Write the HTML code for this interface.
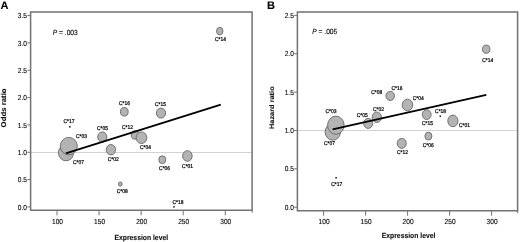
<!DOCTYPE html>
<html><head><meta charset="utf-8"><style>
html,body{margin:0;padding:0;background:#fff;width:520px;height:242px;overflow:hidden}
svg{display:block;font-family:"Liberation Sans",sans-serif;will-change:transform}
text{text-rendering:geometricPrecision;stroke:#111;stroke-width:0.12px}
text.lb{stroke:#000;stroke-width:0.22px}
</style></head><body>
<svg width="520" height="242" viewBox="0 0 520 242">
<rect width="520" height="242" fill="#fff"/>
<line x1="30.6" y1="152.50" x2="252.1" y2="152.50" stroke="#d2d2d2" stroke-width="1"/>
<line x1="27.400000000000002" y1="206.95" x2="30.6" y2="206.95" stroke="#727272" stroke-width="1"/>
<text x="17.87" y="209.55" textLength="9.13" lengthAdjust="spacingAndGlyphs" font-size="7.3" fill="#000" >0.0</text>
<line x1="27.400000000000002" y1="179.61" x2="30.6" y2="179.61" stroke="#727272" stroke-width="1"/>
<text x="17.87" y="182.21" textLength="9.13" lengthAdjust="spacingAndGlyphs" font-size="7.3" fill="#000" >0.5</text>
<line x1="27.400000000000002" y1="152.27" x2="30.6" y2="152.27" stroke="#727272" stroke-width="1"/>
<text x="17.87" y="154.87" textLength="9.13" lengthAdjust="spacingAndGlyphs" font-size="7.3" fill="#000" >1.0</text>
<line x1="27.400000000000002" y1="124.93" x2="30.6" y2="124.93" stroke="#727272" stroke-width="1"/>
<text x="17.87" y="127.53" textLength="9.13" lengthAdjust="spacingAndGlyphs" font-size="7.3" fill="#000" >1.5</text>
<line x1="27.400000000000002" y1="97.59" x2="30.6" y2="97.59" stroke="#727272" stroke-width="1"/>
<text x="17.87" y="100.19" textLength="9.13" lengthAdjust="spacingAndGlyphs" font-size="7.3" fill="#000" >2.0</text>
<line x1="27.400000000000002" y1="70.25" x2="30.6" y2="70.25" stroke="#727272" stroke-width="1"/>
<text x="17.87" y="72.85" textLength="9.13" lengthAdjust="spacingAndGlyphs" font-size="7.3" fill="#000" >2.5</text>
<line x1="27.400000000000002" y1="42.91" x2="30.6" y2="42.91" stroke="#727272" stroke-width="1"/>
<text x="17.87" y="45.51" textLength="9.13" lengthAdjust="spacingAndGlyphs" font-size="7.3" fill="#000" >3.0</text>
<line x1="27.400000000000002" y1="15.57" x2="30.6" y2="15.57" stroke="#727272" stroke-width="1"/>
<text x="17.87" y="18.17" textLength="9.13" lengthAdjust="spacingAndGlyphs" font-size="7.3" fill="#000" >3.5</text>
<line x1="57.00" y1="210.3" x2="57.00" y2="215.3" stroke="#727272" stroke-width="1"/>
<text x="52.02" y="224.20" textLength="10.96" lengthAdjust="spacingAndGlyphs" font-size="7.3" fill="#000" >100</text>
<line x1="99.06" y1="210.3" x2="99.06" y2="215.3" stroke="#727272" stroke-width="1"/>
<text x="94.08" y="224.20" textLength="10.96" lengthAdjust="spacingAndGlyphs" font-size="7.3" fill="#000" >150</text>
<line x1="141.13" y1="210.3" x2="141.13" y2="215.3" stroke="#727272" stroke-width="1"/>
<text x="136.15" y="224.20" textLength="10.96" lengthAdjust="spacingAndGlyphs" font-size="7.3" fill="#000" >200</text>
<line x1="183.19" y1="210.3" x2="183.19" y2="215.3" stroke="#727272" stroke-width="1"/>
<text x="178.21" y="224.20" textLength="10.96" lengthAdjust="spacingAndGlyphs" font-size="7.3" fill="#000" >250</text>
<line x1="225.26" y1="210.3" x2="225.26" y2="215.3" stroke="#727272" stroke-width="1"/>
<text x="220.28" y="224.20" textLength="10.96" lengthAdjust="spacingAndGlyphs" font-size="7.3" fill="#000" >300</text>
<line x1="252.1" y1="210.3" x2="252.1" y2="212.8" stroke="#727272" stroke-width="1"/>
<ellipse cx="66.00" cy="152.80" rx="7.60" ry="8.00" fill="#b3b3b3" stroke="#686868" stroke-width="0.9"/>
<ellipse cx="68.80" cy="146.10" rx="8.50" ry="8.70" fill="#b3b3b3" stroke="#686868" stroke-width="0.9"/>
<ellipse cx="219.75" cy="31.10" rx="3.20" ry="3.80" fill="#b3b3b3" stroke="#686868" stroke-width="0.9"/>
<ellipse cx="124.30" cy="111.80" rx="3.87" ry="4.30" fill="#b3b3b3" stroke="#686868" stroke-width="0.9"/>
<ellipse cx="161.00" cy="113.10" rx="4.60" ry="5.00" fill="#b3b3b3" stroke="#686868" stroke-width="0.9"/>
<ellipse cx="135.00" cy="135.00" rx="3.78" ry="4.20" fill="#b3b3b3" stroke="#686868" stroke-width="0.9"/>
<ellipse cx="141.50" cy="137.70" rx="5.40" ry="5.80" fill="#b3b3b3" stroke="#686868" stroke-width="0.9"/>
<ellipse cx="102.30" cy="137.00" rx="4.59" ry="5.10" fill="#b3b3b3" stroke="#686868" stroke-width="0.9"/>
<ellipse cx="110.90" cy="149.70" rx="4.68" ry="5.20" fill="#b3b3b3" stroke="#686868" stroke-width="0.9"/>
<ellipse cx="162.30" cy="159.70" rx="3.51" ry="3.90" fill="#b3b3b3" stroke="#686868" stroke-width="0.9"/>
<ellipse cx="187.40" cy="156.00" rx="4.77" ry="5.30" fill="#b3b3b3" stroke="#686868" stroke-width="0.9"/>
<ellipse cx="120.30" cy="184.10" rx="1.89" ry="2.10" fill="#b3b3b3" stroke="#686868" stroke-width="0.9"/>
<rect x="69.05" y="125.95" width="1.5" height="1.7" fill="#2a2a2a"/>
<rect x="173.25" y="205.95" width="1.5" height="1.7" fill="#2a2a2a"/>
<line x1="65.8" y1="153.4" x2="220.8" y2="104.7" stroke="#000" stroke-width="1.75"/>
<path d="M30.6 12.1 H252.1 V210.3 H30.6 Z" fill="none" stroke="#727272" stroke-width="1.5"/>
<text class="lb" x="215.00" y="41.30" textLength="11.01" lengthAdjust="spacingAndGlyphs" font-size="5.5" fill="#000" >C*14</text>
<text class="lb" x="119.00" y="104.90" textLength="11.01" lengthAdjust="spacingAndGlyphs" font-size="5.5" fill="#000" >C*16</text>
<text class="lb" x="155.00" y="105.60" textLength="11.01" lengthAdjust="spacingAndGlyphs" font-size="5.5" fill="#000" >C*15</text>
<text class="lb" x="121.90" y="128.50" textLength="11.01" lengthAdjust="spacingAndGlyphs" font-size="5.5" fill="#000" >C*12</text>
<text class="lb" x="139.90" y="148.80" textLength="11.01" lengthAdjust="spacingAndGlyphs" font-size="5.5" fill="#000" >C*04</text>
<text class="lb" x="97.00" y="129.70" textLength="11.01" lengthAdjust="spacingAndGlyphs" font-size="5.5" fill="#000" >C*05</text>
<text class="lb" x="107.70" y="160.70" textLength="11.01" lengthAdjust="spacingAndGlyphs" font-size="5.5" fill="#000" >C*02</text>
<text class="lb" x="76.00" y="137.90" textLength="11.01" lengthAdjust="spacingAndGlyphs" font-size="5.5" fill="#000" >C*03</text>
<text class="lb" x="73.00" y="164.20" textLength="11.01" lengthAdjust="spacingAndGlyphs" font-size="5.5" fill="#000" >C*07</text>
<text class="lb" x="159.10" y="169.90" textLength="11.01" lengthAdjust="spacingAndGlyphs" font-size="5.5" fill="#000" >C*06</text>
<text class="lb" x="182.10" y="167.90" textLength="11.01" lengthAdjust="spacingAndGlyphs" font-size="5.5" fill="#000" >C*01</text>
<text class="lb" x="116.80" y="192.80" textLength="11.01" lengthAdjust="spacingAndGlyphs" font-size="5.5" fill="#000" >C*08</text>
<text class="lb" x="63.40" y="123.10" textLength="11.01" lengthAdjust="spacingAndGlyphs" font-size="5.5" fill="#000" >C*17</text>
<text class="lb" x="172.50" y="203.60" textLength="11.01" lengthAdjust="spacingAndGlyphs" font-size="5.5" fill="#000" >C*18</text>
<text x="0.6" y="9.0" font-size="11" font-weight="bold" fill="#000">A</text>
<text x="52.8" y="34.7" textLength="24.99" lengthAdjust="spacingAndGlyphs" font-size="7.4" fill="#000"><tspan font-style="italic">P</tspan> = .003</text>
<text x="114.48" y="239.80" textLength="53.63" lengthAdjust="spacingAndGlyphs" font-size="7.55" font-weight="bold" fill="#111" >Expression level</text>
<text transform="translate(6.4,107.9) rotate(-90) scale(1,0.9)" text-anchor="middle" font-size="7.8" font-weight="bold" fill="#111">Odds ratio</text>
<line x1="297.4" y1="130.50" x2="517.6" y2="130.50" stroke="#d2d2d2" stroke-width="1"/>
<line x1="294.2" y1="207.20" x2="297.4" y2="207.20" stroke="#727272" stroke-width="1"/>
<text x="284.67" y="209.80" textLength="9.13" lengthAdjust="spacingAndGlyphs" font-size="7.3" fill="#000" >0.0</text>
<line x1="294.2" y1="168.84" x2="297.4" y2="168.84" stroke="#727272" stroke-width="1"/>
<text x="284.67" y="171.44" textLength="9.13" lengthAdjust="spacingAndGlyphs" font-size="7.3" fill="#000" >0.5</text>
<line x1="294.2" y1="130.48" x2="297.4" y2="130.48" stroke="#727272" stroke-width="1"/>
<text x="284.67" y="133.08" textLength="9.13" lengthAdjust="spacingAndGlyphs" font-size="7.3" fill="#000" >1.0</text>
<line x1="294.2" y1="92.12" x2="297.4" y2="92.12" stroke="#727272" stroke-width="1"/>
<text x="284.67" y="94.72" textLength="9.13" lengthAdjust="spacingAndGlyphs" font-size="7.3" fill="#000" >1.5</text>
<line x1="294.2" y1="53.76" x2="297.4" y2="53.76" stroke="#727272" stroke-width="1"/>
<text x="284.67" y="56.36" textLength="9.13" lengthAdjust="spacingAndGlyphs" font-size="7.3" fill="#000" >2.0</text>
<line x1="294.2" y1="15.40" x2="297.4" y2="15.40" stroke="#727272" stroke-width="1"/>
<text x="284.67" y="18.00" textLength="9.13" lengthAdjust="spacingAndGlyphs" font-size="7.3" fill="#000" >2.5</text>
<line x1="323.60" y1="210.7" x2="323.60" y2="215.7" stroke="#727272" stroke-width="1"/>
<text x="318.62" y="224.20" textLength="10.96" lengthAdjust="spacingAndGlyphs" font-size="7.3" fill="#000" >100</text>
<line x1="365.60" y1="210.7" x2="365.60" y2="215.7" stroke="#727272" stroke-width="1"/>
<text x="360.62" y="224.20" textLength="10.96" lengthAdjust="spacingAndGlyphs" font-size="7.3" fill="#000" >150</text>
<line x1="407.60" y1="210.7" x2="407.60" y2="215.7" stroke="#727272" stroke-width="1"/>
<text x="402.62" y="224.20" textLength="10.96" lengthAdjust="spacingAndGlyphs" font-size="7.3" fill="#000" >200</text>
<line x1="449.60" y1="210.7" x2="449.60" y2="215.7" stroke="#727272" stroke-width="1"/>
<text x="444.62" y="224.20" textLength="10.96" lengthAdjust="spacingAndGlyphs" font-size="7.3" fill="#000" >250</text>
<line x1="491.60" y1="210.7" x2="491.60" y2="215.7" stroke="#727272" stroke-width="1"/>
<text x="486.62" y="224.20" textLength="10.96" lengthAdjust="spacingAndGlyphs" font-size="7.3" fill="#000" >300</text>
<line x1="517.6" y1="210.7" x2="517.6" y2="213.2" stroke="#727272" stroke-width="1"/>
<ellipse cx="332.80" cy="131.90" rx="7.70" ry="8.30" fill="#b3b3b3" stroke="#686868" stroke-width="0.9"/>
<ellipse cx="335.85" cy="125.20" rx="8.25" ry="9.10" fill="#b3b3b3" stroke="#686868" stroke-width="0.9"/>
<ellipse cx="486.20" cy="49.20" rx="3.70" ry="4.10" fill="#b3b3b3" stroke="#686868" stroke-width="0.9"/>
<ellipse cx="390.20" cy="95.90" rx="4.30" ry="4.60" fill="#b3b3b3" stroke="#686868" stroke-width="0.9"/>
<ellipse cx="407.50" cy="105.00" rx="5.30" ry="5.80" fill="#b3b3b3" stroke="#686868" stroke-width="0.9"/>
<ellipse cx="376.80" cy="117.20" rx="4.60" ry="5.20" fill="#b3b3b3" stroke="#686868" stroke-width="0.9"/>
<ellipse cx="368.20" cy="123.40" rx="4.50" ry="5.00" fill="#b3b3b3" stroke="#686868" stroke-width="0.9"/>
<ellipse cx="426.70" cy="114.60" rx="4.41" ry="4.90" fill="#b3b3b3" stroke="#686868" stroke-width="0.9"/>
<ellipse cx="452.90" cy="120.90" rx="5.10" ry="5.80" fill="#b3b3b3" stroke="#686868" stroke-width="0.9"/>
<ellipse cx="401.70" cy="143.40" rx="4.50" ry="5.00" fill="#b3b3b3" stroke="#686868" stroke-width="0.9"/>
<ellipse cx="428.40" cy="136.10" rx="3.51" ry="3.90" fill="#b3b3b3" stroke="#686868" stroke-width="0.9"/>
<rect x="439.55" y="115.35" width="1.5" height="1.7" fill="#2a2a2a"/>
<rect x="335.35" y="176.95" width="1.5" height="1.7" fill="#2a2a2a"/>
<line x1="332.6" y1="129.3" x2="486.3" y2="94.9" stroke="#000" stroke-width="1.75"/>
<path d="M297.4 11.9 H517.6 V210.7 H297.4 Z" fill="none" stroke="#727272" stroke-width="1.5"/>
<text class="lb" x="482.20" y="61.70" textLength="11.01" lengthAdjust="spacingAndGlyphs" font-size="5.5" fill="#000" >C*14</text>
<text class="lb" x="371.20" y="93.70" textLength="11.01" lengthAdjust="spacingAndGlyphs" font-size="5.5" fill="#000" >C*08</text>
<text class="lb" x="391.40" y="89.70" textLength="11.01" lengthAdjust="spacingAndGlyphs" font-size="5.5" fill="#000" >C*16</text>
<text class="lb" x="412.80" y="100.10" textLength="11.01" lengthAdjust="spacingAndGlyphs" font-size="5.5" fill="#000" >C*04</text>
<text class="lb" x="373.00" y="110.70" textLength="11.01" lengthAdjust="spacingAndGlyphs" font-size="5.5" fill="#000" >C*02</text>
<text class="lb" x="356.70" y="117.00" textLength="11.01" lengthAdjust="spacingAndGlyphs" font-size="5.5" fill="#000" >C*05</text>
<text class="lb" x="325.50" y="112.90" textLength="11.01" lengthAdjust="spacingAndGlyphs" font-size="5.5" fill="#000" >C*03</text>
<text class="lb" x="324.00" y="145.40" textLength="11.01" lengthAdjust="spacingAndGlyphs" font-size="5.5" fill="#000" >C*07</text>
<text class="lb" x="421.90" y="125.20" textLength="11.01" lengthAdjust="spacingAndGlyphs" font-size="5.5" fill="#000" >C*15</text>
<text class="lb" x="435.10" y="113.30" textLength="11.01" lengthAdjust="spacingAndGlyphs" font-size="5.5" fill="#000" >C*18</text>
<text class="lb" x="458.90" y="126.70" textLength="11.01" lengthAdjust="spacingAndGlyphs" font-size="5.5" fill="#000" >C*01</text>
<text class="lb" x="396.90" y="154.20" textLength="11.01" lengthAdjust="spacingAndGlyphs" font-size="5.5" fill="#000" >C*12</text>
<text class="lb" x="422.80" y="147.10" textLength="11.01" lengthAdjust="spacingAndGlyphs" font-size="5.5" fill="#000" >C*06</text>
<text class="lb" x="331.20" y="185.90" textLength="11.01" lengthAdjust="spacingAndGlyphs" font-size="5.5" fill="#000" >C*17</text>
<text x="267.0" y="9.0" font-size="11" font-weight="bold" fill="#000">B</text>
<text x="312.3" y="33.6" textLength="24.99" lengthAdjust="spacingAndGlyphs" font-size="7.4" fill="#000"><tspan font-style="italic">P</tspan> = .005</text>
<text x="381.78" y="237.50" textLength="53.63" lengthAdjust="spacingAndGlyphs" font-size="7.55" font-weight="bold" fill="#111" >Expression level</text>
<text transform="translate(273.9,107.7) rotate(-90) scale(1,0.9)" text-anchor="middle" font-size="7.4" font-weight="bold" fill="#111">Hazard ratio</text>
</svg>
</body></html>
